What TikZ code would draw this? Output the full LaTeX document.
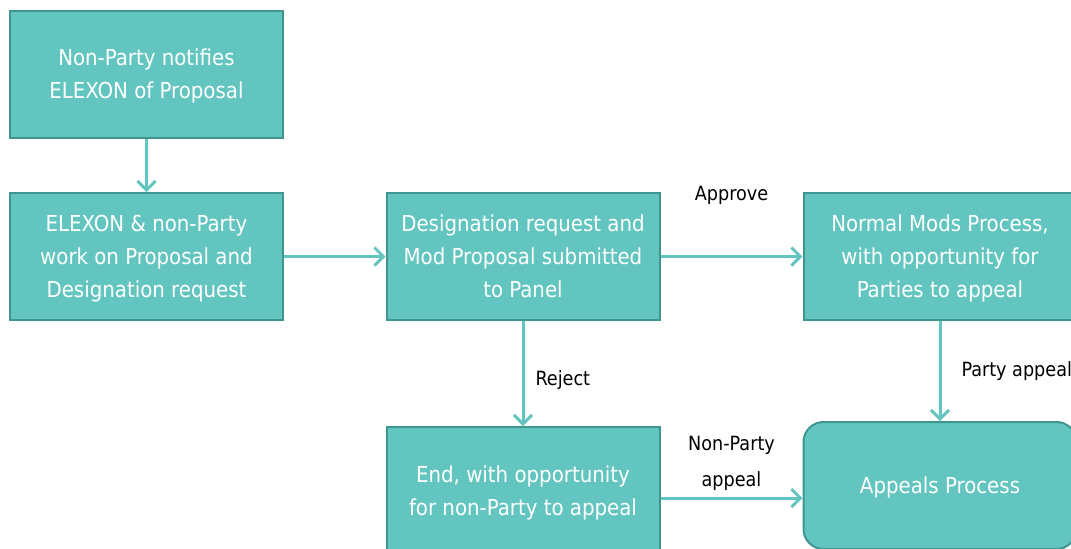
\documentclass[tikz,border=0pt]{standalone}
\usepackage{fontspec}
\setmainfont{DejaVu Sans Condensed}
\usepackage{tikz}
\usetikzlibrary{arrows.meta,positioning}

\definecolor{tealfill}{HTML}{63C5BF}
\definecolor{tealline}{HTML}{3F968F}

\begin{document}
\begin{tikzpicture}[x=0.5pt,y=-0.5pt,node distance=2cm,on grid,auto,
    stepbox/.style={draw=tealline,line width=1pt,fill=tealfill,text=white,
        minimum width=136.5pt,minimum height=63.5pt,align=center,
        text depth=-3pt,font=\fontsize{11}{16.5}\selectfont},
    endbox/.style={stepbox,rounded corners=10pt},
    flow/.style={draw=tealfill,line width=1.5pt,
        -{Straight Barb[length=4.5pt,width=9pt,line width=1.5pt]}},
    lbl/.style={text=black,align=center,inner sep=0pt,font=\fontsize{9.8}{18}\selectfont}]
    \clip (0,0) rectangle (1071,548);
    \useasboundingbox (0,0) rectangle (1071,548);
        \node[stepbox] (notify) at (146.5,74) {Non-Party notifies\\ELEXON of Proposal};
        \node[stepbox] (work) [below=91.25pt of notify] {ELEXON \& non-Party\\work on Proposal and\\Designation request};
        \node[stepbox] (panel) [right=188.25pt of work] {Designation request and\\Mod Proposal submitted\\to Panel};
        \node[stepbox] (normal) [right=208.5pt of panel] {Normal Mods Process,\\with opportunity for\\Parties to appeal};
        \node[stepbox] (reject) [below=117pt of panel] {End, with opportunity\\for non-Party to appeal};
        \node[endbox] (appeals) [below=114.5pt of normal] {Appeals Process};
        \coordinate (npa) at (0,498);
        \path[every edge/.style={flow}]
            (notify) edge (work)
            (work) edge (panel)
            (panel) edge node[lbl,above=25pt] {Approve} (normal)
            (panel) edge node[lbl,right=5.5pt,pos=0.56] {Reject} (reject)
            (normal) edge node[lbl,right=10pt] {Party appeal} (appeals)
            (reject.east |- npa) edge node[lbl,above=3pt] {Non-Party\\appeal} (appeals.west |- npa);
    \end{tikzpicture}
\end{document}
